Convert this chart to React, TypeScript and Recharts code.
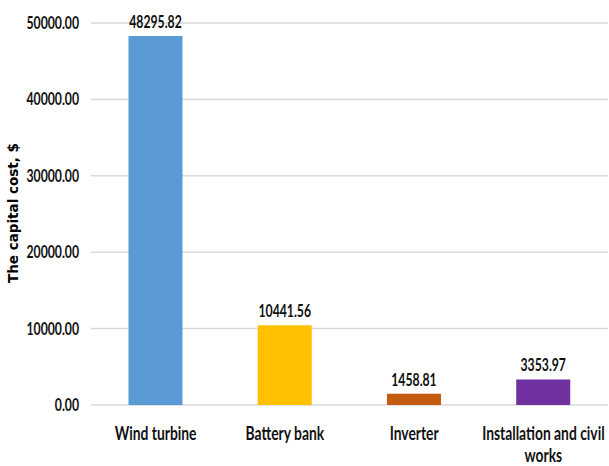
import React from "react";
import { BarChart, Bar, XAxis, YAxis, CartesianGrid, Cell, LabelList } from "recharts";

const categories = ["Wind turbine", "Battery bank", "Inverter", "Installation and civil works"];
const costs = [48295.82, 10441.56, 1458.81, 3353.97];
const colors = ["#5B9BD5", "#FFC000", "#C55A11", "#7030A0"];
const yTicks = [0, 10000, 20000, 30000, 40000, 50000];
const yTitle = "The capital cost, $";

const data = categories.map((name, i) => ({ name, cost: costs[i] }));

const FONT = "Lato, 'Liberation Sans', sans-serif";
const SQUEEZE = 0.77;
const NUM_SQUEEZE = 0.72;

const wrapWords = (s: string, maxChars: number) => {
  const words = s.split(" ");
  const lines: string[] = [];
  let cur = "";
  words.forEach((w) => {
    const next = cur ? cur + " " + w : w;
    if (next.length > maxChars && cur) {
      lines.push(cur);
      cur = w;
    } else {
      cur = next;
    }
  });
  if (cur) lines.push(cur);
  return lines;
};

const XTick = (props: any) => {
  const { x, y, payload } = props;
  const lines = wrapWords(String(payload.value), 22);
  return (
    <text
      transform={`translate(${x},${y}) scale(${SQUEEZE},1)`}
      textAnchor="middle"
      fontFamily={FONT}
      fontSize={18}
      fontWeight="bold"
      fill="#111"
    >
      {lines.map((l, i) => (
        <tspan key={i} x={0} y={27 + i * 22}>
          {l}
        </tspan>
      ))}
    </text>
  );
};

const YTick = (props: any) => {
  const { x, y, payload } = props;
  return (
    <text
      transform={`translate(${x},${y + 6}) scale(${NUM_SQUEEZE},1)`}
      textAnchor="end"
      fontFamily={FONT}
      fontSize={17}
      fontWeight="bold"
      fill="#111"
    >
      {Number(payload.value).toFixed(2)}
    </text>
  );
};

const ValueLabel = (props: any) => {
  const { x, y, width, value } = props;
  return (
    <text
      transform={`translate(${Number(x) + Number(width) / 2},${Number(y) - 8}) scale(${NUM_SQUEEZE},1)`}
      textAnchor="middle"
      fontFamily={FONT}
      fontSize={17}
      fontWeight="bold"
      fill="#111"
    >
      {Number(value).toFixed(2)}
    </text>
  );
};

const YTitle = (props: any) => {
  const vb = props.viewBox || { x: 0, y: 23, width: 91, height: 382 };
  const cx = vb.x + 18;
  const cy = vb.y + vb.height / 2 - 1;
  return (
    <text
      transform={`translate(${cx},${cy}) rotate(-90)`}
      textAnchor="middle"
      fontFamily="'DejaVu Sans', sans-serif"
      fontSize={13.5}
      fontWeight="bold"
      fill="#000"
    >
      {yTitle}
    </text>
  );
};

export default function App() {
  return (
    <div style={{ position: "absolute", left: 0, top: 0, width: 609, height: 466, background: "#fff" }}>
      <BarChart
        width={609}
        height={466}
        data={data}
        margin={{ top: 23, right: 1, left: 0, bottom: 0 }}
        barCategoryGap="29%"
      >
        <CartesianGrid vertical={false} stroke="#D9D9D9" strokeWidth={1.5} />
        <XAxis
          dataKey="name"
          axisLine={false}
          tickLine={false}
          height={61}
          interval={0}
          tick={<XTick />}
        />
        <YAxis
          domain={[0, 50000]}
          ticks={yTicks}
          width={91}
          axisLine={false}
          tickLine={false}
          tickSize={0}
          tick={<YTick />}
          tickMargin={12}
          label={<YTitle />}
        />
        <Bar dataKey="cost" isAnimationActive={false}>
          {data.map((d, i) => (
            <Cell key={d.name} fill={colors[i]} />
          ))}
          <LabelList dataKey="cost" content={<ValueLabel />} />
        </Bar>
      </BarChart>
    </div>
  );
}
